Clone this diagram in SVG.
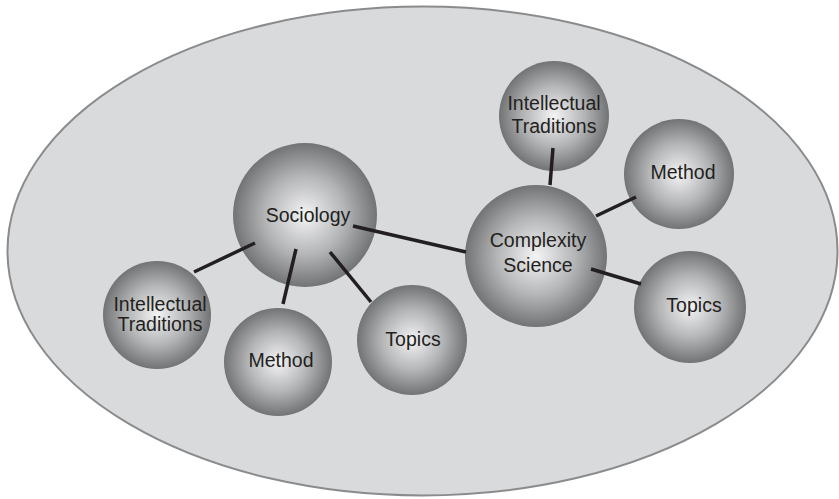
<svg xmlns="http://www.w3.org/2000/svg" width="839" height="499" viewBox="0 0 839 499">
  <defs>
    <radialGradient id="ball" cx="0.5" cy="0.5" r="0.5">
      <stop offset="0" stop-color="#f4f4f5"/>
      <stop offset="0.55" stop-color="#b4b5b7"/>
      <stop offset="1" stop-color="#727375"/>
    </radialGradient>
  </defs>
  <style>
    .node { fill: url(#ball); }
    .lbl { font-family: "Liberation Sans", Arial, sans-serif; font-size: 19.5px; fill: #231f20; text-anchor: middle; }
    .conn line { stroke: #231f20; stroke-width: 3.5; }
  </style>
  <rect width="839" height="499" fill="#ffffff"/>
  <ellipse id="field" cx="422.5" cy="251" rx="415" ry="244.5" fill="#d9dadc" stroke="#8a8b8d" stroke-width="2"/>

  <g id="sociology"><circle class="node" cx="305" cy="215" r="72"/><text class="lbl" x="308" y="222">Sociology</text></g>
  <g id="complexity"><circle class="node" cx="536" cy="256" r="71"/><text class="lbl" x="538" y="247">Complexity</text><text class="lbl" x="538" y="272">Science</text></g>
  <g id="soc-it"><circle class="node" cx="157" cy="315" r="54"/><text class="lbl" x="160" y="311">Intellectual</text><text class="lbl" x="160" y="331">Traditions</text></g>
  <g id="soc-method"><circle class="node" cx="278" cy="362" r="54"/><text class="lbl" x="281" y="367">Method</text></g>
  <g id="soc-topics"><circle class="node" cx="412" cy="340" r="55"/><text class="lbl" x="413" y="346">Topics</text></g>
  <g id="cs-it"><circle class="node" cx="554" cy="116" r="55"/><text class="lbl" x="554" y="110">Intellectual</text><text class="lbl" x="554" y="133">Traditions</text></g>
  <g id="cs-method"><circle class="node" cx="679" cy="174" r="55"/><text class="lbl" x="683" y="179">Method</text></g>
  <g id="cs-topics"><circle class="node" cx="690" cy="307" r="56"/><text class="lbl" x="694" y="312">Topics</text></g>

  <g id="connectors" class="conn">
    <line x1="353" y1="226" x2="466" y2="252"/>
    <line x1="255" y1="243" x2="194" y2="272"/>
    <line x1="296" y1="249" x2="283" y2="304"/>
    <line x1="330" y1="252" x2="371" y2="302"/>
    <line x1="553" y1="148" x2="550" y2="185"/>
    <line x1="596" y1="216" x2="636" y2="197"/>
    <line x1="591" y1="269" x2="641" y2="284"/>
  </g>
</svg>
